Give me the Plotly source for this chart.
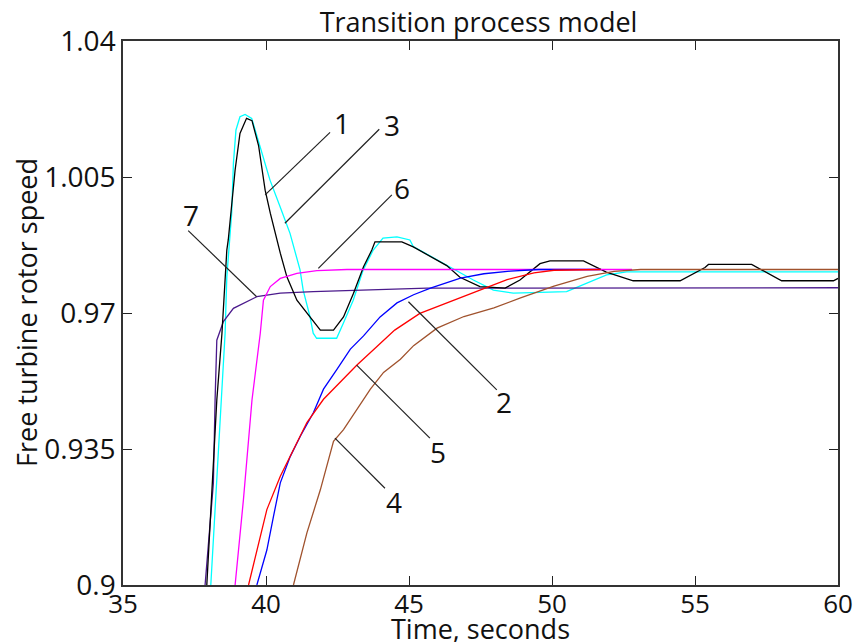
import plotly.graph_objects as go

# ---- data ----
t1 = [37.93, 38.11, 38.28, 38.46, 38.63, 38.68, 38.92, 39.09, 39.32, 39.51, 39.74, 39.97, 40.15, 40.50,
      40.73, 41.08, 41.55, 41.90, 42.36, 42.71, 43.06, 43.41, 43.70, 43.81, 44.75, 45.15, 46.32, 46.78,
      47.48, 48.36, 48.88, 49.58, 49.93, 51.10, 51.90, 52.84, 54.48, 55.35, 55.47, 56.98, 58.03, 59.84, 60.0]
y1 = [0.900, 0.9262, 0.9476, 0.9648, 0.9862, 0.9888, 1.0068, 1.0162, 1.0201, 1.0195, 1.0131, 1.0016,
      0.9957, 0.9854, 0.9793, 0.9733, 0.9690, 0.9656, 0.9656, 0.9690, 0.9751, 0.9819, 0.9862, 0.9883,
      0.9883, 0.9870, 0.9822, 0.9792, 0.9768, 0.9764, 0.9785, 0.9827, 0.9834, 0.9834, 0.9805, 0.9783,
      0.9783, 0.9817, 0.9825, 0.9825, 0.9783, 0.9783, 0.9789]

t2 = [39.68, 40.03, 40.26, 40.50, 40.85, 41.20, 41.66, 42.01, 42.48, 42.95, 43.41, 43.99, 44.58, 45.16,
      45.75, 46.80, 47.62, 48.55, 49.53, 51.70]
y2 = [0.900, 0.909, 0.9176, 0.9263, 0.9331, 0.9383, 0.9444, 0.9504, 0.9555, 0.9607, 0.9641, 0.9690,
      0.9726, 0.9747, 0.9764, 0.9790, 0.9801, 0.9808, 0.9812, 0.9812]

t3 = [38.07, 38.28, 38.45, 38.57, 38.63, 38.80, 38.86, 38.95, 39.09, 39.27, 39.50, 39.79, 40.14, 40.49,
      40.84, 41.19, 41.30, 41.54, 41.65, 41.77, 42.47, 42.70, 43.05, 43.40, 43.75, 44.09, 44.58, 45.03,
      45.15, 46.32, 47.25, 47.95, 48.65, 50.51, 51.21, 51.91, 52.61, 60.0]
y3 = [0.900, 0.9262, 0.9476, 0.9648, 0.9793, 0.9957, 1.0085, 1.0171, 1.0205, 1.0211, 1.0201, 1.0128,
      1.0042, 0.9974, 0.9905, 0.9811, 0.9759, 0.9690, 0.9648, 0.9635, 0.9635, 0.9673, 0.9733, 0.9811,
      0.9862, 0.9893, 0.9896, 0.9888, 0.9871, 0.9823, 0.9785, 0.9759, 0.9751, 0.9755, 0.9776, 0.9798,
      0.9806, 0.9806]

t4 = [40.96, 41.43, 41.90, 42.36, 42.71, 43.18, 43.65, 44.11, 44.70, 45.16, 45.98, 46.92, 47.97, 48.90,
      50.07, 51.23, 52.17, 53.10, 60.0]
y4 = [0.900, 0.9134, 0.9245, 0.9370, 0.9400, 0.9452, 0.9504, 0.9547, 0.9581, 0.9616, 0.9661, 0.9691,
      0.9713, 0.9739, 0.9769, 0.9794, 0.9807, 0.9812, 0.9812]

t5 = [39.39, 39.68, 40.03, 40.50, 40.96, 41.43, 42.01, 42.60, 43.18, 43.88, 44.50, 45.38, 46.32, 47.48,
      48.43, 49.37, 50.07, 51.70]
y5 = [0.900, 0.909, 0.9194, 0.928, 0.9349, 0.9418, 0.9478, 0.9521, 0.9566, 0.9614, 0.9656, 0.9699,
      0.9725, 0.9759, 0.9786, 0.9803, 0.9810, 0.9812]

t6 = [38.92, 39.21, 39.51, 39.80, 39.91, 40.15, 40.50, 41.08, 41.78, 42.83, 52.80]
y6 = [0.900, 0.9219, 0.9476, 0.9648, 0.9733, 0.9768, 0.9789, 0.9802, 0.9809, 0.9812, 0.9812]

t7 = [37.87, 38.16, 38.22, 38.28, 38.51, 38.86, 39.68, 40.50, 41.65, 43.88, 45.63, 60.0]
y7 = [0.900, 0.9262, 0.9476, 0.9630, 0.9678, 0.9712, 0.9742, 0.9751, 0.9755, 0.9761, 0.9764, 0.9765]

x_ticks = [35, 40, 45, 50, 55, 60]
y_ticks = [0.9, 0.935, 0.97, 1.005, 1.04]
y_tick_labels = ["0.9", "0.935", "0.97", "1.005", "1.04"]

# curve labels: text, label position, leader start, leader end (on the curve)
labels = ["1", "3", "6", "7", "2", "5", "4"]
label_x = [42.67, 44.42, 44.77, 37.38, 48.32, 46.01, 44.48]
label_y = [1.0190, 1.0184, 1.0022, 0.9951, 0.9470, 0.9342, 0.9214]
lead_x0 = [42.24, 43.96, 44.40, 37.28, 48.07, 45.73, 44.16]
lead_y0 = [1.0165, 1.0173, 1.0004, 0.9912, 0.9502, 0.9378, 0.9249]
lead_x1 = [39.97, 40.66, 41.83, 39.67, 44.98, 43.17, 42.41]
lead_y1 = [1.0004, 0.9931, 0.9815, 0.9742, 0.9729, 0.9566, 0.9378]

series = [
    (t3, y3, "#00FFFF", "3"),
    (t7, y7, "#4B1A8C", "7"),
    (t1, y1, "#000000", "1"),
    (t6, y6, "#FF00FF", "6"),
    (t2, y2, "#0000FF", "2"),
    (t5, y5, "#FF0000", "5"),
    (t4, y4, "#A0522D", "4"),
]

FONT = "Open Sans"
TXT = "#111111"
fig = go.Figure()
for tx, ty, col, name in series:
    fig.add_trace(go.Scatter(x=tx, y=ty, mode="lines", name=name,
                             line=dict(color=col, width=1.3), showlegend=False))

for i in range(len(labels)):
    fig.add_shape(type="line", xref="x", yref="y",
                  x0=lead_x0[i], y0=lead_y0[i], x1=lead_x1[i], y1=lead_y1[i],
                  line=dict(color="#222222", width=1.2))
    fig.add_annotation(x=label_x[i], y=label_y[i], text=labels[i], showarrow=False,
                       font=dict(family=FONT, size=28, color=TXT))

# axis titles
fig.add_annotation(xref="paper", yref="paper", x=0.5, y=0, yshift=-43,
                   xanchor="center", yanchor="middle", showarrow=False,
                   text="Time, seconds", font=dict(family=FONT, size=27, color=TXT))
fig.add_annotation(xref="paper", yref="paper", x=0, y=0.5, xshift=-97,
                   xanchor="center", yanchor="middle", showarrow=False, textangle=-90,
                   text="Free turbine rotor speed", font=dict(family=FONT, size=27, color=TXT))

axis_common = dict(showgrid=False, zeroline=False, showline=True, mirror="ticks",
                   linecolor="#333333", linewidth=1.5, ticks="inside", ticklen=9,
                   tickwidth=1.2, tickcolor="#222222", automargin=False,
                   ticklabeloverflow="allow")

fig.update_layout(
    width=853, height=642,
    margin=dict(l=123, r=15, t=41, b=57),
    paper_bgcolor="white", plot_bgcolor="white",
    title=dict(text="Transition process model", x=0.561, xanchor="center",
               y=1 - 23 / 642, yanchor="middle",
               font=dict(family=FONT, size=27, color=TXT)),
    xaxis=dict(range=[35, 60], tickvals=x_ticks, ticklabelstandoff=-5,
               tickfont=dict(family=FONT, size=26, color=TXT), **axis_common),
    yaxis=dict(range=[0.9, 1.04], tickvals=y_ticks, ticktext=y_tick_labels,
               tickfont=dict(family=FONT, size=28, color=TXT), **axis_common),
)

# remove the default page margin and scrollbars so the figure fills the window exactly
fig.write_html(
    "out.html",
    config={"displayModeBar": False},
    post_script="document.body.style.margin='0';"
                "document.body.style.overflow='hidden';"
                "document.documentElement.style.overflow='hidden';",
)
